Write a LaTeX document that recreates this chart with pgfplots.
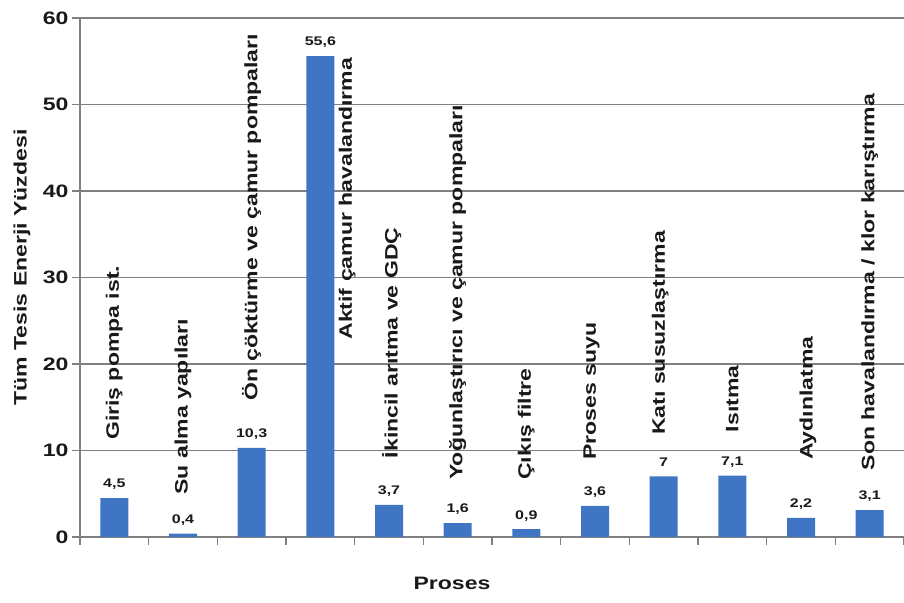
\documentclass[border=0pt]{standalone}
\usepackage{fontspec}
\setmainfont{Liberation Sans}[FakeStretch=1.28]
\usepackage{pgfplots}
\usepackage{pgfplotstable}
\pgfplotsset{compat=1.18}

\definecolor{barblue}{RGB}{64,117,196}
\definecolor{gridgray}{RGB}{128,128,128}
\definecolor{ink}{RGB}{25,25,25}

% Share of total plant energy use per process (%)
\pgfplotstableread{
idx value
0  4.5
1  0.4
2  10.3
3  55.6
4  3.7
5  1.6
6  0.9
7  3.6
8  7.0
9  7.1
10 2.2
11 3.1
}\energy

\newcommand{\mainfontsz}{\fontsize{18}{20}\selectfont\bfseries}
\newcommand{\valfontsz}{\fontsize{12.5}{14}\selectfont\bfseries}

\begin{document}
\begin{tikzpicture}[
  catlabel/.style={rotate=90, anchor=west, inner sep=0pt, font=\mainfontsz, text=ink}
]
\begin{axis}[
  scale only axis,
  width=824pt, height=519pt,
  xmin=-0.5, xmax=11.5, ymin=0, ymax=60,
  axis x line=bottom, axis y line=left,
  axis line style={-, gridgray, line width=1.3pt},
  xtick={-0.5,0.5,...,11.5}, xticklabels={,,},
  ytick={0,10,...,60},
  ymajorgrids,
  grid style={gridgray, line width=1.1pt},
  tick align=outside,
  major tick length=8pt,
  tick style={gridgray, line width=1.3pt},
  yticklabel style={font=\mainfontsz, text=ink},
  /pgf/number format/assume math mode=true,
  /pgf/number format/use comma,
  ybar, bar width=28pt,
  nodes near coords,
  nodes near coords style={font=\valfontsz, text=ink, inner sep=0pt,
    text depth=0pt, anchor=south, yshift=10pt},
]
\addplot[fill=barblue, draw=none] table[x=idx, y=value]{\energy};

\node[catlabel] at (axis cs:0,11.2)     {Giriş pompa ist.};
\node[catlabel] at (axis cs:1,4.9)      {Su alma yapıları};
\node[catlabel] at (axis cs:2,15.8)     {Ön çöktürme ve çamur pompaları};
\node[catlabel] at (axis cs:3.39,22.8)  {Aktif çamur havalandırma};
\node[catlabel] at (axis cs:4.04,9.1)   {İkincil arıtma ve GDÇ};
\node[catlabel] at (axis cs:5,6.6)      {Yoğunlaştırıcı ve çamur pompaları};
\node[catlabel] at (axis cs:6,6.6)      {Çıkış filtre};
\node[catlabel] at (axis cs:6.95,8.9)   {Proses suyu};
\node[catlabel] at (axis cs:7.95,11.8)  {Katı susuzlaştırma};
\node[catlabel] at (axis cs:9,12.1)     {Isıtma};
\node[catlabel] at (axis cs:10.1,8.9)   {Aydınlatma};
\node[catlabel] at (axis cs:11,7.7)     {Son havalandırma / klor karıştırma};
\end{axis}

\node[rotate=90, font=\mainfontsz, text=ink, inner sep=0pt]
  at ([shift={(-58pt,10pt)}]current axis.west) {Tüm Tesis Enerji Yüzdesi};
\node[font=\mainfontsz, text=ink, inner sep=0pt]
  at ([shift={(-40pt,-46pt)}]current axis.south) {Proses};

\pgfresetboundingbox
\path[use as bounding box]
  ([shift={(-80pt,-66pt)}]current axis.south west)
  rectangle ([shift={(0pt,18pt)}]current axis.north east);
\end{tikzpicture}
\end{document}
